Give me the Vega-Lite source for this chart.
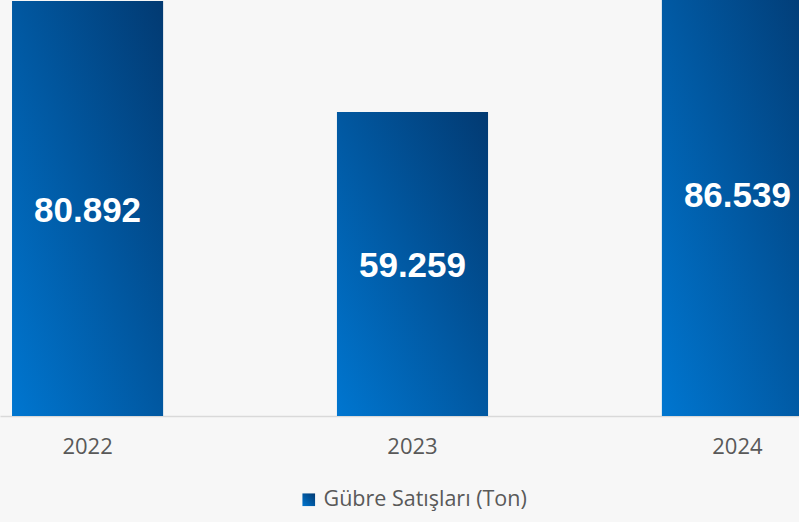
{
  "$schema": "https://vega.github.io/schema/vega-lite/v6.json",
  "width": 799,
  "height": 416,
  "autosize": {"type": "none"},
  "padding": {"left": 0, "top": 0, "right": 0, "bottom": 106},
  "background": "#f7f7f7",
  "config": {
    "view": {"stroke": null},
    "locale": {"number": {"decimal": ",", "thousands": ".", "grouping": [3], "currency": ["", " ₺"]}}
  },
  "data": {
    "values": [
      {"year": "2022", "value": 80892, "series": "Gübre Satışları (Ton)"},
      {"year": "2023", "value": 59259, "series": "Gübre Satışları (Ton)"},
      {"year": "2024", "value": 86539, "series": "Gübre Satışları (Ton)"}
    ]
  },
  "encoding": {
    "x": {
      "field": "year",
      "type": "nominal",
      "scale": {"range": [0, 825], "paddingInner": 0.535, "paddingOuter": 0.037},
      "axis": {
        "title": null,
        "labelAngle": 0,
        "ticks": false,
        "tickSize": 0,
        "labelPadding": 20,
        "labelFont": "Open Sans",
        "labelFontSize": 22,
        "labelColor": "#595959",
        "domainColor": "#d9d9d9",
        "domainWidth": 1.5,
        "grid": false
      }
    }
  },
  "layer": [
    {
      "mark": {
        "type": "bar",
        "clip": true,
        "fill": {
          "gradient": "linear",
          "x1": 0, "y1": 1, "x2": 1, "y2": 0,
          "stops": [
            {"offset": 0, "color": "#0076d0"},
            {"offset": 1, "color": "#023a72"}
          ]
        }
      },
      "encoding": {
        "y": {
          "field": "value",
          "type": "quantitative",
          "scale": {"domain": [0, 81100], "nice": false, "zero": true},
          "axis": null
        },
        "opacity": {
          "field": "series",
          "type": "nominal",
          "scale": {"range": [1]},
          "legend": {
            "title": null,
            "orient": "none",
            "legendX": 298,
            "legendY": 489,
            "direction": "horizontal",
            "symbolType": "square",
            "symbolSize": 160,
            "symbolStrokeWidth": 0,
            "symbolOpacity": 1,
            "labelOffset": 4,
            "labelFont": "Open Sans",
            "labelFontSize": 21.5,
            "labelColor": "#595959",
            "labelLimit": 400,
            "encode": {
              "symbols": {
                "update": {
                  "fill": {
                    "value": {
                      "gradient": "linear",
                      "x1": 0, "y1": 1, "x2": 1, "y2": 0,
                      "stops": [
                        {"offset": 0, "color": "#0076d0"},
                        {"offset": 1, "color": "#023a72"}
                      ]
                    }
                  },
                  "opacity": {"value": 1}
                }
              }
            }
          }
        }
      }
    },
    {
      "transform": [{"calculate": "datum.value / 2", "as": "mid"}],
      "mark": {
        "type": "text",
        "font": "Liberation Sans",
        "fontWeight": "bold",
        "fontSize": 35,
        "color": "white",
        "baseline": "middle",
        "align": "center",
        "dy": 2
      },
      "encoding": {
        "y": {"field": "mid", "type": "quantitative"},
        "text": {"field": "value", "type": "quantitative", "format": ",d"}
      }
    }
  ]
}
